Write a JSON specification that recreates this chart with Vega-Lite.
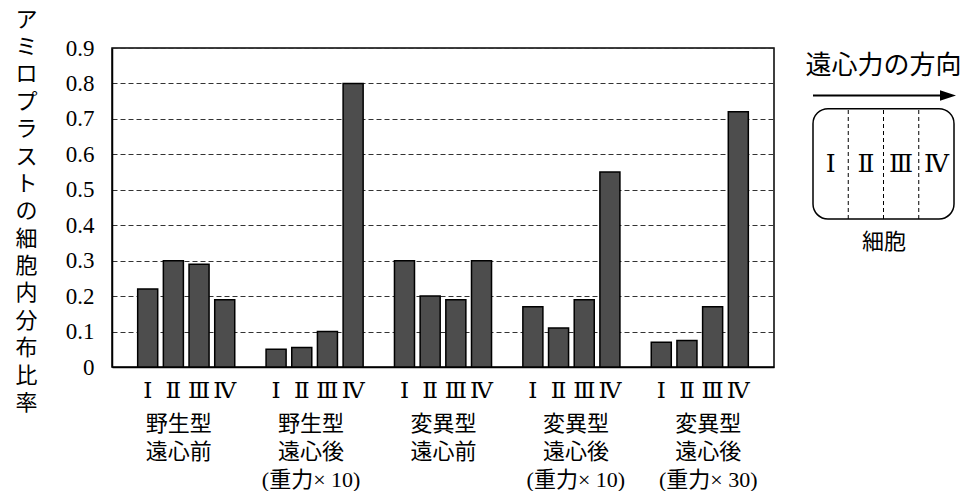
{
  "$schema": "https://vega.github.io/schema/vega-lite/v6.json",
  "padding": {"left": 14, "top": 7, "right": 0, "bottom": 0},
  "bounds": "flush",
  "spacing": 39,
  "background": "#ffffff",
  "config": {"view": {"stroke": "#000000", "strokeWidth": 1.5}, "font": "Noto Sans CJK JP"},
  "datasets": {
    "bars": [
      {"group": "野生型|遠心前", "section": "Ⅰ", "slot": "1-Ⅰ", "value": 0.22},
      {"group": "野生型|遠心前", "section": "Ⅱ", "slot": "1-Ⅱ", "value": 0.30},
      {"group": "野生型|遠心前", "section": "Ⅲ", "slot": "1-Ⅲ", "value": 0.29},
      {"group": "野生型|遠心前", "section": "Ⅳ", "slot": "1-Ⅳ", "value": 0.19},
      {"group": "野生型|遠心後|(重力× 10)", "section": "Ⅰ", "slot": "2-Ⅰ", "value": 0.05},
      {"group": "野生型|遠心後|(重力× 10)", "section": "Ⅱ", "slot": "2-Ⅱ", "value": 0.055},
      {"group": "野生型|遠心後|(重力× 10)", "section": "Ⅲ", "slot": "2-Ⅲ", "value": 0.10},
      {"group": "野生型|遠心後|(重力× 10)", "section": "Ⅳ", "slot": "2-Ⅳ", "value": 0.80},
      {"group": "変異型|遠心前", "section": "Ⅰ", "slot": "3-Ⅰ", "value": 0.30},
      {"group": "変異型|遠心前", "section": "Ⅱ", "slot": "3-Ⅱ", "value": 0.20},
      {"group": "変異型|遠心前", "section": "Ⅲ", "slot": "3-Ⅲ", "value": 0.19},
      {"group": "変異型|遠心前", "section": "Ⅳ", "slot": "3-Ⅳ", "value": 0.30},
      {"group": "変異型|遠心後|(重力× 10)", "section": "Ⅰ", "slot": "4-Ⅰ", "value": 0.17},
      {"group": "変異型|遠心後|(重力× 10)", "section": "Ⅱ", "slot": "4-Ⅱ", "value": 0.11},
      {"group": "変異型|遠心後|(重力× 10)", "section": "Ⅲ", "slot": "4-Ⅲ", "value": 0.19},
      {"group": "変異型|遠心後|(重力× 10)", "section": "Ⅳ", "slot": "4-Ⅳ", "value": 0.55},
      {"group": "変異型|遠心後|(重力× 30)", "section": "Ⅰ", "slot": "5-Ⅰ", "value": 0.07},
      {"group": "変異型|遠心後|(重力× 30)", "section": "Ⅱ", "slot": "5-Ⅱ", "value": 0.075},
      {"group": "変異型|遠心後|(重力× 30)", "section": "Ⅲ", "slot": "5-Ⅲ", "value": 0.17},
      {"group": "変異型|遠心後|(重力× 30)", "section": "Ⅳ", "slot": "5-Ⅳ", "value": 0.72}
    ]
  },
  "hconcat": [
    {
      "width": 662,
      "height": 319,
      "data": {"name": "bars"},
      "encoding": {
        "y": {
          "field": "value", "type": "quantitative",
          "scale": {"domain": [0, 0.9], "nice": false},
          "axis": {
            "title": ["ア","ミ","ロ","プ","ラ","ス","ト","の","細","胞","内","分","布","比","率"],
            "titleAngle": 0, "titleX": -86, "titleY": -39, "titleAlign": "center", "titleBaseline": "top",
            "titleFontSize": 22, "titleFont": "Noto Sans CJK JP", "titleFontWeight": "normal",
            "titleLineHeight": 27.4, "titleColor": "#000000",
            "values": [0, 0.1, 0.2, 0.3, 0.4, 0.5, 0.6, 0.7, 0.8, 0.9],
            "labelExpr": "datum.value == 0 ? '0' : format(datum.value, '.1f')",
            "labelFont": "Liberation Serif", "labelFontSize": 23, "labelColor": "#000000", "labelPadding": 18,
            "labelOverlap": false,
            "ticks": false, "domainColor": "#000000", "domainWidth": 1.5,
            "grid": true, "gridDash": [5, 3], "gridColor": "#333333", "gridWidth": 1
          }
        }
      },
      "layer": [
        {
          "mark": {"type": "bar", "fill": "#4d4d4d", "stroke": "#000000", "strokeWidth": 1.5},
          "encoding": {
            "x": {
              "field": "slot", "type": "nominal", "sort": null,
              "scale": {
                "domain": ["1-Ⅰ","1-Ⅱ","1-Ⅲ","1-Ⅳ","1-","2-Ⅰ","2-Ⅱ","2-Ⅲ","2-Ⅳ","2-","3-Ⅰ","3-Ⅱ","3-Ⅲ","3-Ⅳ","3-","4-Ⅰ","4-Ⅱ","4-Ⅲ","4-Ⅳ","4-","5-Ⅰ","5-Ⅱ","5-Ⅲ","5-Ⅳ"],
                "paddingInner": 0.22, "paddingOuter": 1.02
              },
              "axis": {
                "title": null, "labelExpr": "split(datum.value, '-')[1]", "labelAngle": 0,
                "ticks": false, "domain": true, "domainColor": "#000000", "domainWidth": 1.5,
                "labelFont": "DejaVu Serif", "labelFontSize": 23, "labelColor": "#000000",
                "labelPadding": 12, "grid": false
              }
            }
          }
        },
        {
          "mark": {"type": "point", "opacity": 0},
          "encoding": {
            "x": {
              "field": "group", "type": "nominal", "sort": null,
              "scale": {
                "domain": ["野生型|遠心前","野生型|遠心後|(重力× 10)","変異型|遠心前","変異型|遠心後|(重力× 10)","変異型|遠心後|(重力× 30)"],
                "paddingInner": 0, "paddingOuter": 0.082
              },
              "axis": {
                "orient": "bottom", "title": null, "labelExpr": "split(datum.value, '|')", "labelAngle": 0,
                "ticks": false, "domain": false, "grid": false,
                "labelPadding": 46, "labelFontSize": 22, "labelLineHeight": 28,
                "labelFont": "Liberation Serif, Noto Sans CJK JP", "labelColor": "#000000", "labelBaseline": "top"
              }
            }
          }
        }
      ],
      "resolve": {"scale": {"x": "independent"}, "axis": {"x": "independent"}}
    },
    {
      "width": 141,
      "height": 171,
      "view": {"stroke": null},
      "layer": [
        {
          "data": {"values": [{"start": 0, "end": 4, "bottom": 0, "top": 1}]},
          "mark": {"type": "rect", "fill": "#ffffff", "stroke": "#000000", "strokeWidth": 1.5, "cornerRadius": 15},
          "encoding": {
            "x": {
              "field": "start", "type": "quantitative", "scale": {"domain": [0, 4], "nice": false, "zero": false},
              "axis": {
                "title": "細胞", "labels": false, "ticks": false, "domain": false, "grid": false,
                "titleFont": "Noto Sans CJK JP", "titleFontSize": 22, "titleFontWeight": "normal",
                "titleColor": "#000000", "titlePadding": 12
              }
            },
            "x2": {"field": "end"},
            "y": {"field": "bottom", "type": "quantitative", "scale": {"domain": [0, 1.55], "nice": false}, "axis": null},
            "y2": {"field": "top"}
          }
        },
        {
          "data": {"values": [{"boundary": 1}, {"boundary": 2}, {"boundary": 3}]},
          "mark": {"type": "rule", "strokeDash": [4, 3], "strokeWidth": 1, "color": "#000000"},
          "encoding": {
            "x": {"field": "boundary", "type": "quantitative"},
            "y": {"datum": 0, "type": "quantitative"},
            "y2": {"datum": 1}
          }
        },
        {
          "data": {"values": [{"pos": 0.5, "label": "Ⅰ"}, {"pos": 1.5, "label": "Ⅱ"}, {"pos": 2.5, "label": "Ⅲ"}, {"pos": 3.5, "label": "Ⅳ"}]},
          "mark": {"type": "text", "font": "DejaVu Serif", "fontSize": 25, "color": "#000000", "align": "center", "baseline": "middle"},
          "encoding": {
            "x": {"field": "pos", "type": "quantitative"},
            "y": {"datum": 0.5, "type": "quantitative"},
            "text": {"field": "label"}
          }
        },
        {
          "data": {"values": [{"from": 0, "to": 3.83, "level": 1.12}]},
          "mark": {"type": "rule", "strokeWidth": 2, "color": "#000000"},
          "encoding": {
            "x": {"field": "from", "type": "quantitative"},
            "x2": {"field": "to"},
            "y": {"field": "level", "type": "quantitative"}
          }
        },
        {
          "data": {"values": [{"tip": 3.83, "level": 1.12}]},
          "mark": {"type": "point", "shape": "M-1,-0.65L1,0L-1,0.65Z", "size": 256, "filled": true, "color": "#000000", "opacity": 1},
          "encoding": {
            "x": {"field": "tip", "type": "quantitative"},
            "y": {"field": "level", "type": "quantitative"}
          }
        },
        {
          "data": {"values": [{"pos": 2, "level": 1.39, "label": "遠心力の方向"}]},
          "mark": {"type": "text", "font": "Noto Sans CJK JP", "fontSize": 26, "color": "#000000", "align": "center", "baseline": "middle"},
          "encoding": {
            "x": {"field": "pos", "type": "quantitative"},
            "y": {"field": "level", "type": "quantitative"},
            "text": {"field": "label"}
          }
        }
      ]
    }
  ]
}
